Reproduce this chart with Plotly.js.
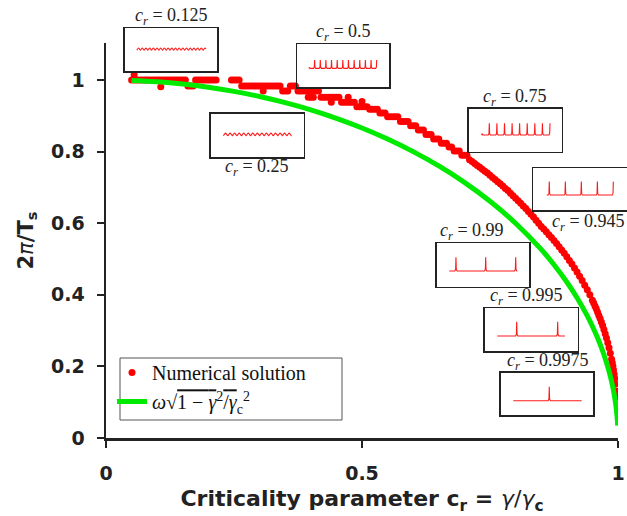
<!DOCTYPE html>
<html><head><meta charset="utf-8">
<script src="https://cdn.plot.ly/plotly-3.0.1.min.js"></script>
<style>html,body{margin:0;padding:0;background:#fff}#chart{width:627px;height:516px}</style>
</head><body><div id="chart"></div>
<script>
// ---------- numerical solution (red dots) ----------
const numX = [
 0.050,0.055,0.060,0.065,0.070,0.075,0.080,0.085,0.090,0.095,0.100,0.105,0.110,0.115,0.120,0.125,0.130,0.135,0.140,0.145,0.150,0.155,
 0.055,0.107,
 0.160,0.165,0.170,
 0.175,0.180,0.185,0.190,0.195,0.200,0.205,0.210,0.215,
 0.245,0.250,0.255,0.260,
 0.265,0.270,0.275,0.280,0.285,0.290,0.295,0.300,0.305,0.310,0.315,0.320,0.325,0.330,0.335,0.340,
 0.307,
 0.345,0.350,0.355,
 0.360,0.365,0.370,
 0.375,0.380,0.385,0.390,0.395,0.400,0.405,0.410,0.415,
 0.395,0.400,0.405,
 0.420,0.425,0.430,0.435,0.440,0.445,0.450,0.455,
 0.440,
 0.460,0.465,0.470,0.475,0.480,0.485,
 0.473,
 0.490,0.495,0.500,0.505,0.510,
 0.500,
 0.515,0.520,0.525,0.530,
 0.535,0.540,0.545,
 0.550,0.555,0.560,0.565,0.570,
 0.575,0.580,0.585,0.590,
 0.595,0.600,0.605,
 0.610,0.615,0.620,
 0.625,0.630,0.635,
 0.640,0.645,0.650,
 0.655,0.660,0.665,
 0.670,0.675,
 0.680,0.685,0.690,
 0.695,0.700,0.705,
 0.710,0.715,0.720,0.725,0.730,0.735,0.740,0.745,0.750,0.755,
 0.760,0.765,0.770,0.775,0.780,0.785,0.790,0.795,0.800,0.805,
 0.810,0.815,0.820,0.825,0.830,0.835,0.840,0.845,0.850,0.855,
 0.860,0.865,0.870,0.875,0.880,0.885,0.890,0.895,0.900,0.905,
 0.910,0.915,0.920,0.925,0.930,0.935,0.940,0.945,0.950,0.9525,
 0.955,0.9575,0.960,0.9625,0.965,0.9675,0.970,0.9725,0.975,0.9775,
 0.980,0.9825,0.985,0.9875,0.98875,0.990,0.99125,0.9925,0.99375,0.995,
 0.9965,0.9975
];
const numY = [
 1.000,1.000,1.000,1.000,1.000,1.000,1.000,1.000,1.000,1.000,1.000,1.000,1.000,1.000,1.000,1.000,1.000,1.000,1.000,1.000,1.000,1.000,
 1.015,0.981,
 0.983,0.983,0.983,
 1.000,1.000,1.000,1.000,1.000,1.000,1.000,1.000,1.000,
 1.000,1.000,1.000,1.000,
 0.983,0.983,0.983,0.983,0.983,0.983,0.983,0.983,0.983,0.983,0.983,0.983,0.983,0.983,0.983,0.983,
 0.969,
 0.969,0.969,0.969,
 0.983,0.983,0.983,
 0.969,0.969,0.969,0.969,0.969,0.969,0.969,0.969,0.969,
 0.952,0.952,0.952,
 0.952,0.952,0.952,0.952,0.952,0.952,0.952,0.952,
 0.938,
 0.938,0.938,0.938,0.938,0.938,0.938,
 0.952,
 0.925,0.925,0.925,0.925,0.925,
 0.940,
 0.918,0.918,0.918,0.918,
 0.908,0.908,0.908,
 0.897,0.897,0.897,0.897,0.897,
 0.884,0.884,0.884,0.884,
 0.872,0.872,0.872,
 0.860,0.860,0.860,
 0.848,0.848,0.848,
 0.835,0.835,0.835,
 0.823,0.823,0.823,
 0.813,0.813,
 0.802,0.802,0.802,
 0.790,0.790,0.790,
 0.777,0.772,0.767,0.761,0.756,0.751,0.745,0.740,0.734,0.728,
 0.722,0.716,0.710,0.704,0.697,0.691,0.684,0.677,0.670,0.663,
 0.656,0.648,0.641,0.633,0.625,0.617,0.608,0.600,0.591,0.584,
 0.576,0.568,0.560,0.552,0.543,0.534,0.525,0.516,0.506,0.496,
 0.486,0.475,0.464,0.452,0.440,0.427,0.414,0.400,0.385,0.377,
 0.369,0.361,0.352,0.343,0.334,0.324,0.314,0.303,0.291,0.279,
 0.266,0.252,0.237,0.220,0.211,0.201,0.190,0.178,0.166,0.151,
 0.131,0.114
];

// ---------- analytic curve (green) ----------
const anaX = [0.05,0.10,0.15,0.20,0.25,0.30,0.35,0.40,0.45,0.50,0.55,0.60,0.65,0.70,0.75,0.80,0.85,0.875,0.90,0.92,0.94,0.95,0.96,0.97,0.98,0.985,0.99,0.9925,0.995,0.997,0.999,0.9994];
const anaY = [0.9987,0.9950,0.9887,0.9798,0.9682,0.9539,0.9367,0.9165,0.8930,0.8660,0.8352,0.8000,0.7599,0.7141,0.6614,0.6000,0.5268,0.4841,0.4359,0.3919,0.3412,0.3122,0.2800,0.2431,0.1990,0.1726,0.1411,0.1222,0.0999,0.0774,0.0447,0.0346];

// ---------- axis ticks ----------
const xTickVals = [0, 0.5, 1];
const xTickText = ['0', '0.5', '1'];
const yTickVals = [0, 0.2, 0.4, 0.6, 0.8, 1];
const yTickText = ['0', '0.2', '0.4', '0.6', '0.8', '1'];

// ---------- inset waveforms ----------
const insetCr = ['0.125', '0.5', '0.25', '0.75', '0.945', '0.99', '0.995', '0.9975'];
const insetWindow = [[0.127,0.877],[0.127,0.863],[0.133,0.870],[0.137,0.874],[0.143,0.857],[0.136,0.870],[0.133,0.863],[0.133,0.874]];
const insetPeaks = [
 [0.147,0.187,0.227,0.267,0.307,0.347,0.387,0.427,0.467,0.507,0.547,0.587,0.627,0.667,0.707,0.747,0.787,0.827,0.867],
 [0.127,0.188,0.250,0.311,0.372,0.434,0.495,0.556,0.618,0.679,0.740,0.802,0.863],
 [0.157,0.206,0.255,0.304,0.353,0.402,0.451,0.500,0.549,0.598,0.647,0.696,0.745,0.794,0.843],
 [0.137,0.219,0.301,0.383,0.465,0.546,0.628,0.710,0.792,0.874],
 [0.171,0.343,0.514,0.686,0.857],
 [0.208,0.529,0.853],
 [0.342,0.784],
 [0.523]
];
const insetBase = [0.49, 0.44, 0.50, 0.39, 0.36, 0.362, 0.351, 0.338];
const insetAmp  = [0.05, 0.195, 0.06, 0.275, 0.32, 0.316, 0.335, 0.331];
const insetKind = ['wiggle','spike','wiggle','spike','spike','spike','spike','spike'];

// ---------- layout geometry (pixels -> paper) ----------
const W = 627, H = 516, ML = 106, MB = 78, PW = W - ML, PH = H - MB;
const px = p => (p - ML) / PW;
const py = p => (H - MB - p) / PH;
const insetBoxes = [
 [125,28.3,217.3,71],[297.3,44.3,389.3,87.3],[211,114,303.7,157.3],[469,109,561.7,151.7],
 [533.3,168.3,626.7,210],[436.7,243.3,529.3,286.7],[485,308.3,577.7,351],[501,372.7,593.3,415]
];
const labelPos = [[171.7,16.7],[343.3,32.3],[257.3,167.7],[515,97.3],[588.3,222.7],[471.7,231.7],[526,296.7],[547.7,361.7]];

const spikeDX = [-1,-0.3,0,0.3,1], spikeDY = [0,0.12,1,0.12,0];
const wigDX = [-1,-0.5,0,0.5,1], wigDY = [0,0.5,1,0.5,0];

function buildWave(i){
  const win = insetWindow[i], base = insetBase[i], amp = insetAmp[i];
  const wig = insetKind[i] === 'wiggle';
  const pk = insetPeaks[i];
  const hw = wig ? (pk[1]-pk[0])/2 : 0.012;
  const dx = wig ? wigDX : spikeDX, dy = wig ? wigDY : spikeDY;
  const xs = [win[0]], ys = [base];
  pk.forEach(s => dx.forEach((d,k) => {
    const x = s + d*hw;
    if (x > xs[xs.length-1] && x <= win[1]) { xs.push(x); ys.push(base + dy[k]*amp); }
  }));
  if (xs[xs.length-1] < win[1]) { xs.push(win[1]); ys.push(base); }
  return {xs, ys, wig};
}

const AX = '#222';
const tickFont = {family:'DejaVu Sans', size:19, color:AX, weight:'bold'};
const OL = "style='text-decoration:overline'";

const traces = [
  {x:numX, y:numY, type:'scatter', mode:'markers', name:'Numerical solution',
   marker:{color:'#ff0000', size:7, line:{width:0}}, xaxis:'x', yaxis:'y'},
  {x:anaX, y:anaY, type:'scatter', mode:'lines', line:{color:'#00ea00', width:5, shape:'spline'},
   name:"<i>ω</i>√<span " + OL + ">1 − <i>γ</i></span><sup>2</sup><span " + OL + ">/<i>γ</i></span><sub>c</sub><sup>2</sup>",
   xaxis:'x', yaxis:'y'}
];

const layout = {
  width:W, height:H, margin:{l:ML, r:0, t:0, b:MB},
  paper_bgcolor:'#fff', plot_bgcolor:'rgba(0,0,0,0)',
  font:{family:'DejaVu Sans', color:AX},
  showlegend:true,
  legend:{x:px(112), y:py(353), xanchor:'left', yanchor:'top', bgcolor:'rgba(0,0,0,0)',
          font:{family:'Liberation Serif', size:20, color:'#111'}, itemwidth:30, tracegroupgap:0},
  xaxis:{domain:[0, 512/PW], range:[0,1], showline:true, linecolor:AX, linewidth:2.5,
         ticks:'outside', ticklen:7, tickwidth:2, tickcolor:AX, tickvals:xTickVals, ticktext:xTickText,
         tickfont:tickFont, showgrid:false, zeroline:false, ticklabelstandoff:10,
         title:{text:"Criticality parameter c<sub>r</sub> = <span style='font-weight:normal'><i>γ</i>/<i>γ</i></span><sub>c</sub>",
                font:{family:'DejaVu Sans', size:22, color:AX, weight:'bold'}, standoff:8}},
  yaxis:{domain:[0, py(43)], range:[0, (438-43)/358], showline:true, linecolor:AX, linewidth:2.5,
         ticks:'outside', ticklen:7, tickwidth:2, tickcolor:AX, tickvals:yTickVals, ticktext:yTickText,
         tickfont:tickFont, showgrid:false, zeroline:false, ticklabelstandoff:8,
         title:{text:"2<span style='font-weight:normal'><i>π</i></span>/T<sub>s</sub>",
                font:{family:'DejaVu Sans', size:21, color:AX, weight:'bold'}, standoff:12}},
  shapes:[
    {type:'rect', xref:'paper', yref:'paper', x0:px(120), x1:px(342), y0:py(420), y1:py(358),
     line:{color:'#555', width:1}, fillcolor:'rgba(255,255,255,0)', layer:'below'}
  ],
  annotations:[]
};

insetBoxes.forEach((b,i) => {
  const n = i + 2;
  layout['xaxis'+n] = {domain:[px(b[0]), Math.min(1, px(b[2]))], range:[0,1], anchor:'y'+n,
    showline:true, mirror:true, linecolor:AX, linewidth:1.6, showticklabels:false, ticks:'', tickvals:[],
    showgrid:false, zeroline:false, fixedrange:true};
  layout['yaxis'+n] = {domain:[py(b[3]), py(b[1])], range:[0,1], anchor:'x'+n,
    showline:true, mirror:true, linecolor:AX, linewidth:1.6, showticklabels:false, ticks:'', tickvals:[],
    showgrid:false, zeroline:false, fixedrange:true};
  layout.shapes.push({type:'rect', xref:'x'+n+' domain', yref:'y'+n+' domain', x0:0, x1:1, y0:0, y1:1,
    fillcolor:'#fff', line:{width:0}, layer:'below'});
  const w = buildWave(i);
  traces.push({x:w.xs, y:w.ys, type:'scatter', mode:'lines', showlegend:false, hoverinfo:'skip',
    line:{color:'#ff1a1a', width:1.1, shape: w.wig ? 'spline' : 'linear'}, xaxis:'x'+n, yaxis:'y'+n});
  layout.annotations.push({xref:'paper', yref:'paper', x:px(labelPos[i][0]), y:py(labelPos[i][1]),
    xanchor:'center', yanchor:'middle', showarrow:false,
    text:'<i>c</i><sub><i>r</i></sub> = ' + insetCr[i],
    font:{family:'Liberation Serif', size:18, color:'#222'}});
});

Plotly.newPlot('chart', traces, layout, {displayModeBar:false, staticPlot:true});
</script></body></html>
